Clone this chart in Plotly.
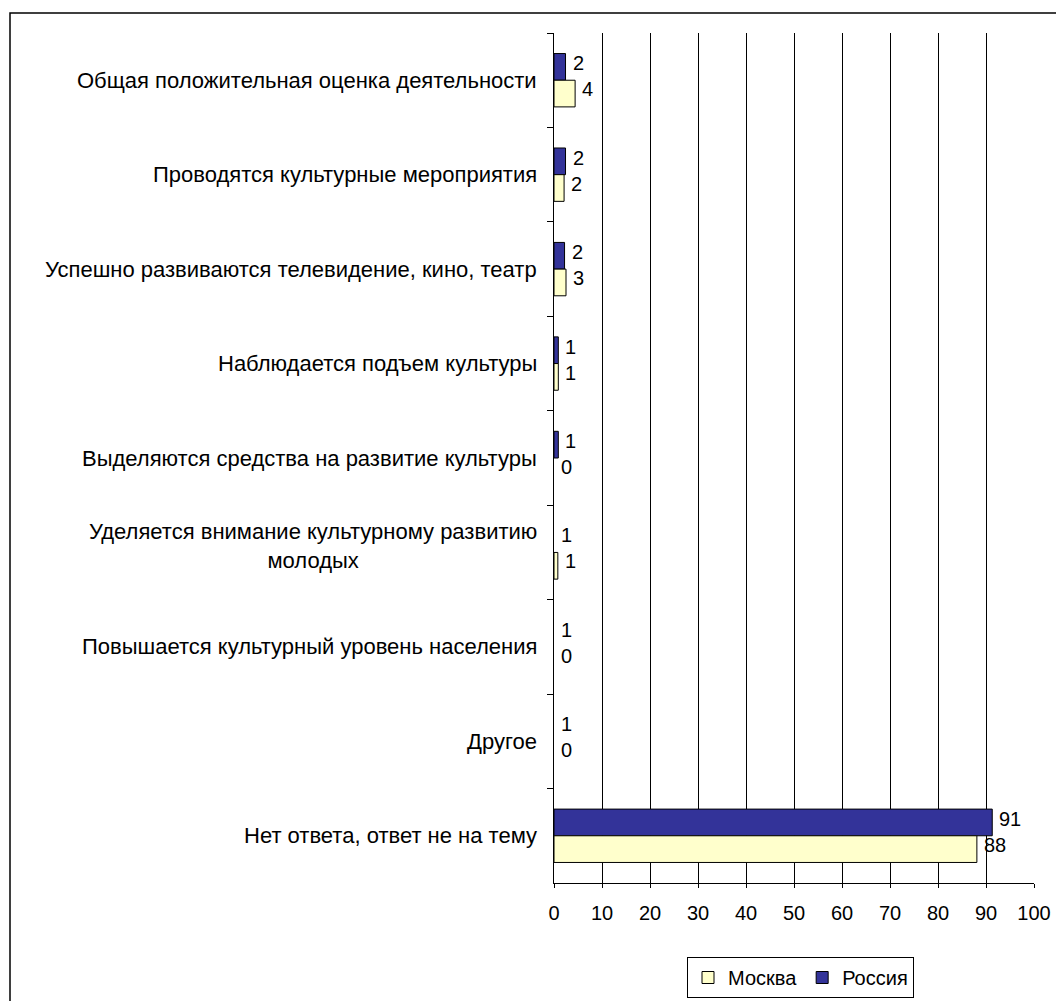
import plotly.graph_objects as go

categories = [
    "Общая положительная оценка деятельности",
    "Проводятся культурные мероприятия",
    "Успешно развиваются телевидение, кино, театр",
    "Наблюдается подъем культуры",
    "Выделяются средства на развитие культуры",
    "Уделяется внимание культурному развитию<br>молодых",
    "Повышается культурный уровень населения",
    "Другое",
    "Нет ответа, ответ не на тему",
]
russia = [2.4, 2.4, 2.2, 0.9, 0.9, 0, 0, 0, 91.3]
moscow = [4.4, 2.1, 2.5, 0.9, 0, 0.8, 0, 0, 88.1]
russia_labels = ["2", "2", "2", "1", "1", "1", "1", "1", "91"]
moscow_labels = ["4", "2", "3", "1", "0", "1", "0", "0", "88"]
x_ticks = [0, 10, 20, 30, 40, 50, 60, 70, 80, 90, 100]

FONT = "Liberation Sans, Arial, sans-serif"
FS = 20
FS_CAT = 22
OFF = 8  # page body margin
W, H = 1064, 1001
L = 554 - OFF
T = 33 - OFF
R = W - (1034 - OFF)
B = H - (883 - OFF)
pw, ph = W - L - R, H - T - B

def px_x(px):
    return (px - OFF - L) / pw

def px_y(py):
    return (H - B - (py - OFF)) / ph

fig = go.Figure()
fig.add_trace(go.Bar(
    y=categories, x=russia, name="Россия", orientation="h",
    marker=dict(color="#333399",
                line=dict(color="black", width=[1 if v > 0 else 0 for v in russia])),
))
fig.add_trace(go.Bar(
    y=categories, x=moscow, name="Москва", orientation="h",
    marker=dict(color="#FFFFCC",
                line=dict(color="black", width=[1 if v > 0 else 0 for v in moscow])),
))

annotations = []
for cat, v, lab in zip(categories, russia, russia_labels):
    annotations.append(dict(x=v, y=cat, xref="x", yref="y", text=lab, showarrow=False,
                            xanchor="left", yanchor="middle", xshift=5, yshift=17,
                            font=dict(family=FONT, size=FS, color="black")))
for cat, v, lab in zip(categories, moscow, moscow_labels):
    annotations.append(dict(x=v, y=cat, xref="x", yref="y", text=lab, showarrow=False,
                            xanchor="left", yanchor="middle", xshift=5, yshift=-9,
                            font=dict(family=FONT, size=FS, color="black")))
for cat in categories:
    annotations.append(dict(x=0, y=cat, xref="paper", yref="y", text=cat, showarrow=False,
                            xanchor="right", yanchor="middle", xshift=-15, align="center",
                            yshift=6 if "<br>" in cat else 0,
                            font=dict(family=FONT, size=FS_CAT, color="black")))

fig.update_layout(
    width=W, height=H,
    margin=dict(l=L, r=R, t=T, b=B, autoexpand=False),
    paper_bgcolor="white", plot_bgcolor="white",
    barmode="group", bargap=0.435, bargroupgap=0,
    font=dict(family=FONT, size=FS, color="black"),
    xaxis=dict(range=[0, 100], tickvals=x_ticks, ticktext=[str(t) for t in x_ticks],
               showgrid=True, gridcolor="black", gridwidth=1,
               showline=True, linecolor="black", linewidth=1,
               ticks="outside", ticklen=4, tickcolor="black",
               ticklabelstandoff=8, zeroline=False, fixedrange=True,
               tickfont=dict(family=FONT, size=FS, color="black")),
    yaxis=dict(categoryorder="array", categoryarray=categories,
               range=[len(categories) - 0.5, -0.5],
               showticklabels=False, showgrid=False,
               showline=True, linecolor="black", linewidth=1,
               ticks="outside", ticklen=6, tickcolor="black", tickson="boundaries",
               zeroline=False, fixedrange=True),
    showlegend=True,
    legend=dict(orientation="h", x=px_x(687), y=px_y(957), xanchor="left", yanchor="top",
                traceorder="reversed", bordercolor="black", borderwidth=1,
                bgcolor="white", font=dict(family=FONT, size=FS, color="black"),
                itemwidth=30),
    annotations=annotations,
    shapes=[dict(type="rect", xref="paper", yref="paper",
                 x0=px_x(10), x1=px_x(1100), y0=px_y(1100), y1=px_y(13),
                 line=dict(color="black", width=1.5), fillcolor="rgba(0,0,0,0)",
                 layer="below")],
)

fig.write_html("out.html")
